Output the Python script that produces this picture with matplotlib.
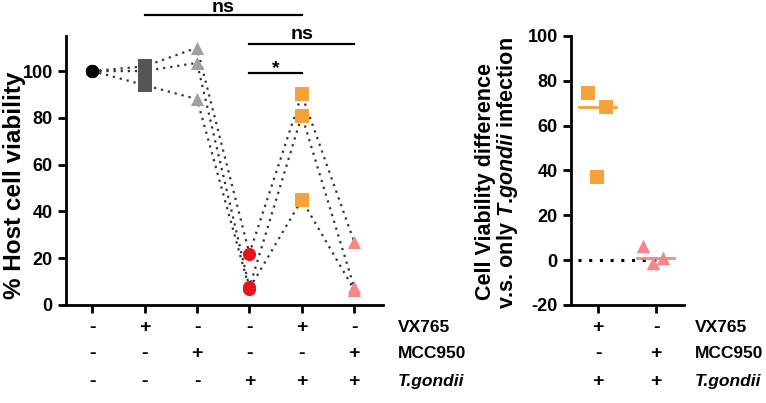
import numpy as np
import matplotlib
matplotlib.use("Agg")
import matplotlib.pyplot as plt

plt.rcParams['font.family'] = ['Liberation Sans', 'DejaVu Sans']
plt.rcParams['font.weight'] = 'bold'
plt.rcParams['mathtext.fontset'] = 'custom'
plt.rcParams['mathtext.it'] = 'Liberation Sans:bold:italic'
plt.rcParams['mathtext.rm'] = 'Liberation Sans:bold'

# ---- data, left panel (one list per replicate, one value per group) ----
groups = [0, 1, 2, 3, 4, 5]
rep1 = [100, 102, 110, 22, 90, 27]
rep2 = [100, 100, 103.5, 7.5, 81, 7.5]
rep3 = [100, 94, 88, 7, 45, 6.5]
group_colors = ['#000000', '#555555', '#a0a0a0', '#e8141c', '#f7a139', '#f4878a']
group_markers = ['o', 's', '^', 'o', 's', '^']

vx765 = ['-', '+', '-', '-', '+', '-']
mcc950 = ['-', '-', '+', '-', '-', '+']
tgondii = ['-', '-', '-', '+', '+', '+']

# ---- data, right panel ----
vx_diff = [74.5, 68.3, 37]
vx_jit = [-0.17, 0.14, -0.02]
mcc_diff = [6.2, -1.2, 1.0]
mcc_jit = [-0.22, -0.05, 0.12]
vx765_r = ['+', '-']
mcc950_r = ['-', '+']
tgondii_r = ['+', '+']

fig = plt.figure(figsize=(7.66, 4.03), dpi=100)
ax1 = fig.add_axes([0.0862, 0.2432, 0.4138, 0.6675])
ax2 = fig.add_axes([0.7454, 0.2432, 0.1475, 0.6675])

for ax in (ax1, ax2):
    for s in ('top', 'right'):
        ax.spines[s].set_visible(False)
    for s in ('left', 'bottom'):
        ax.spines[s].set_linewidth(2)
    ax.tick_params(width=2, length=6, direction='out', labelsize=13)

# left panel
for rep in (rep1, rep2, rep3):
    ax1.plot(groups, rep, color='#333333', lw=1.6, ls=(0, (1, 2.2)), zorder=1)
for g in groups:
    vals = [rep1[g], rep2[g], rep3[g]]
    ax1.scatter([g] * 3, vals, marker=group_markers[g], s=90,
                color=group_colors[g], zorder=3, linewidths=0)
ax1.set_xlim(-0.5, 5.55)
ax1.set_ylim(0, 115)
ax1.set_yticks([0, 20, 40, 60, 80, 100])
ax1.set_yticklabels(['0', '20', '40', '60', '80', '100'], fontweight='bold')
ax1.set_xticks(groups)
ax1.set_xticklabels([])
fig.text(15 / 766, 0.541, '% Host cell viability', rotation=90, ha='center',
         va='center', fontsize=17.5, fontweight='bold')

# significance bars
def sig(ax, x0, x1, y, txt, dy):
    ax.plot([x0, x1], [y, y], color='black', lw=1.6, clip_on=False)
    ax.text((x0 + x1) / 2, y + dy, txt, ha='center', va='bottom',
            fontsize=14, fontweight='bold', clip_on=False)

sig(ax1, 1, 4, 124, 'ns', -0.3)
sig(ax1, 3, 5, 111.5, 'ns', 0.5)
sig(ax1, 3, 4, 99, '*', -1.5)

# table rows
row_y = [-0.082, -0.182, -0.286]
row_names = ['VX765', 'MCC950', 'T.gondii']
def table(ax, cols, rows, label_x):
    tr = ax.get_xaxis_transform()
    for r, (vals, name) in enumerate(zip(rows, row_names)):
        for x, v in zip(cols, vals):
            ax.text(x, row_y[r], v, transform=tr, ha='center', va='center',
                    fontsize=14, fontweight='bold')
        ax.text(label_x, row_y[r], name, transform=tr, ha='left', va='center',
                fontsize=12.5, fontweight='bold',
                style='italic' if name == 'T.gondii' else 'normal')

table(ax1, groups, [vx765, mcc950, tgondii], 5.83)

# right panel
ax2.axhline(0, xmin=0.06, xmax=0.9, color='black', lw=2.2, ls=(0, (1, 2.5)), zorder=1)
ax2.scatter([0 + j for j in vx_jit], vx_diff, marker='s', s=95,
            color='#f7a139', linewidths=0, zorder=3)
ax2.scatter([1 + j for j in mcc_jit], mcc_diff, marker='^', s=95,
            color='#f4878a', linewidths=0, zorder=3)
ax2.plot([-0.33, 0.3], [np.median(vx_diff)] * 2, color='#f7a139', lw=2, zorder=2)
ax2.plot([0.67, 1.3], [np.median(mcc_diff)] * 2, color='#f4878a', lw=2, zorder=2)
ax2.set_xlim(-0.47, 1.48)
ax2.set_ylim(-20, 100)
ax2.set_yticks([-20, 0, 20, 40, 60, 80, 100])
ax2.set_yticklabels(['-20', '0', '20', '40', '60', '80', '100'], fontweight='bold')
ax2.set_xticks([0, 1])
ax2.set_xticklabels([])
fig.text(485 / 766, 1 - 181 / 403, 'Cell Viability difference', rotation=90,
         ha='center', va='center', fontsize=15.5, fontweight='bold')
fig.text(507 / 766, 1 - 173 / 403, 'v.s. only $T$.$gondii$ infection', rotation=90,
         ha='center', va='center', fontsize=15.5, fontweight='bold')

table(ax2, [0, 1], [vx765_r, mcc950_r, tgondii_r], 1.67)

fig.savefig('out.png', dpi=100)
